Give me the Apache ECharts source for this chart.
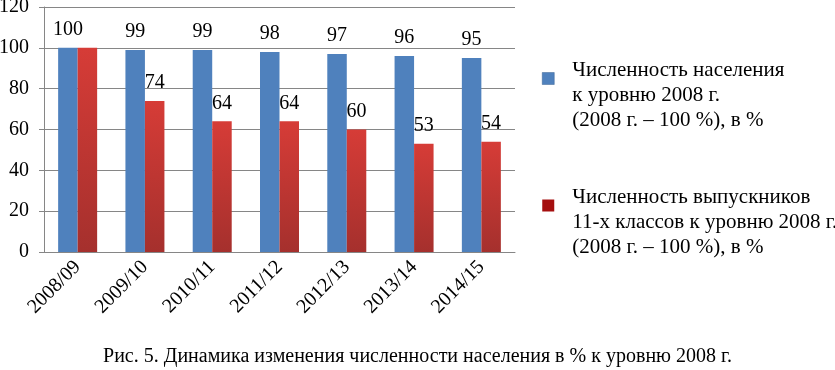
<!DOCTYPE html>
<html>
<head>
<meta charset="utf-8">
<script src="https://cdn.jsdelivr.net/npm/echarts@6/dist/echarts.min.js"></script>
<style>
  html, body { margin: 0; padding: 0; background: #fff; }
  #chart { width: 835px; height: 370px; }
</style>
</head>
<body>
<div id="chart"></div>
<script>
const categories = ['2008/09', '2009/10', '2010/11', '2011/12', '2012/13', '2013/14', '2014/15'];
const population = [100, 99, 99, 98, 97, 96, 95];
const graduates = [100, 74, 64, 64, 60, 53, 54];
const seriesNames = [
  'Численность населения\nк уровню 2008 г.\n(2008 г. – 100 %), в %',
  'Численность выпускников\n11-х классов к уровню 2008 г.\n(2008 г. – 100 %), в %'
];
const caption = 'Рис. 5. Динамика изменения численности населения в % к уровню 2008 г.';

const serif = '"Liberation Serif", "DejaVu Serif", serif';
const chart = echarts.init(document.getElementById('chart'));

// the first red label sits under the "100" of the blue bar, so it is hidden
const graduatesData = graduates.map((v, i) => i === 0 ? { value: v, label: { show: false } } : v);

// legend text: an empty top line pushes the text down so the marker sits near line 1
const legendText = name => '{sp| }\n' + name.split('\n').map(s => '{t|' + s + '}').join('\n');

const option = {
  backgroundColor: '#fff',
  animation: false,
  textStyle: { fontFamily: serif },
  title: {
    text: caption,
    left: 'center',
    top: 342,
    textStyle: { fontFamily: serif, fontSize: 20, fontWeight: 'normal', color: '#000' }
  },
  grid: { left: 44, right: 320, top: 7, bottom: 118, containLabel: false, outerBoundsMode: 'none' },
  legend: {
    orient: 'vertical',
    left: 542,
    top: 36,
    padding: 0,
    itemWidth: 12,
    itemHeight: 12,
    itemGap: 32,
    icon: 'rect',
    data: [
      { name: seriesNames[0], itemStyle: { color: '#4f81bd', borderColor: '#3a6595', borderWidth: 0.5 } },
      { name: seriesNames[1], itemStyle: { color: '#a50f0f' } }
    ],
    formatter: legendText,
    textStyle: {
      fontFamily: serif,
      fontSize: 21,
      color: '#000',
      padding: [0, 0, 0, 13],
      rich: {
        sp: { fontSize: 10, lineHeight: 34, fontFamily: serif },
        t: { fontSize: 21, lineHeight: 25, fontFamily: serif, color: '#000' }
      }
    }
  },
  xAxis: {
    type: 'category',
    data: categories,
    axisLine: { lineStyle: { color: '#868686', width: 1 } },
    axisTick: { show: false },
    axisLabel: { rotate: 45, fontFamily: serif, fontSize: 20, color: '#000', margin: 12, interval: 0 }
  },
  yAxis: {
    type: 'value',
    min: 0,
    max: 120,
    interval: 20,
    axisLine: { show: true, lineStyle: { color: '#868686', width: 1 } },
    axisTick: { show: true, length: 5, lineStyle: { color: '#868686' } },
    axisLabel: { fontFamily: serif, fontSize: 20, color: '#000', margin: 15 },
    splitLine: { lineStyle: { color: '#868686', width: 1 } }
  },
  series: [
    {
      name: seriesNames[0],
      type: 'bar',
      data: population,
      barWidth: 19.5,
      barGap: '0%',
      itemStyle: { color: '#4f81bd' },
      label: {
        show: true,
        position: 'top',
        distance: 8,
        fontFamily: serif,
        fontSize: 20,
        color: '#000'
      }
    },
    {
      name: seriesNames[1],
      type: 'bar',
      data: graduatesData,
      barWidth: 19.5,
      itemStyle: {
        color: new echarts.graphic.LinearGradient(0, 0, 0, 1, [
          { offset: 0, color: '#d63c37' },
          { offset: 1, color: '#a5302d' }
        ])
      },
      label: {
        show: true,
        position: 'top',
        distance: 8,
        fontFamily: serif,
        fontSize: 20,
        color: '#000'
      }
    }
  ]
};

chart.setOption(option);
</script>
</body>
</html>
